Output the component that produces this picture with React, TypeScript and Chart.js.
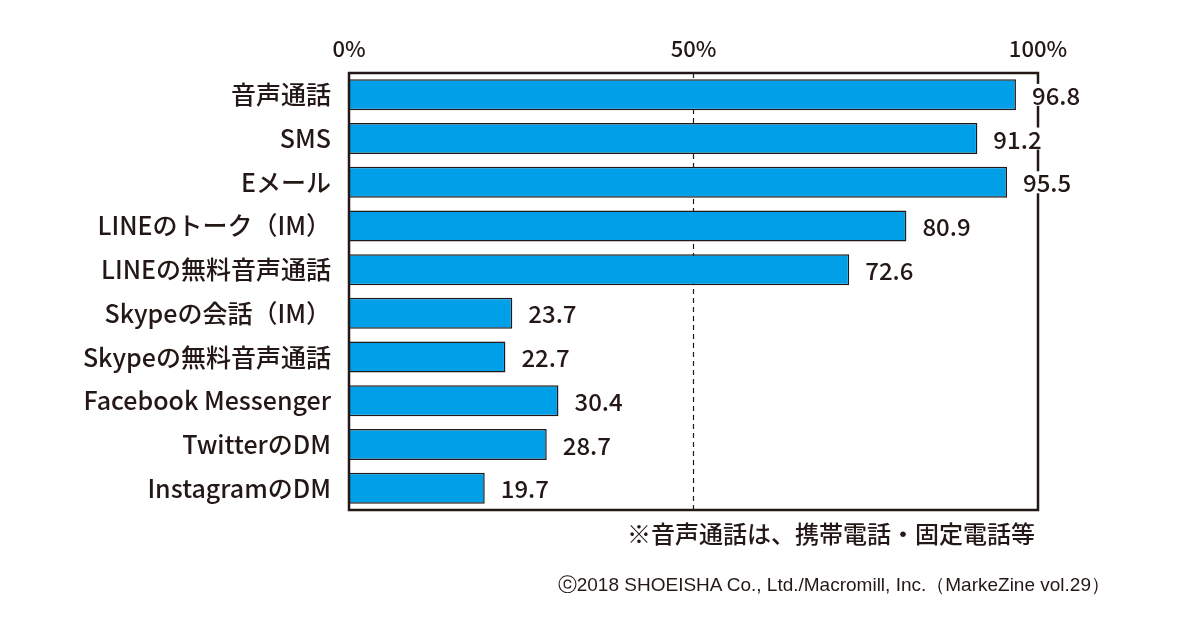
import React, { useEffect, useRef } from "react";
import { Chart, registerables } from "chart.js";

Chart.register(...registerables);

const categories = [
  "音声通話",
  "SMS",
  "Eメール",
  "LINEのトーク（IM）",
  "LINEの無料音声通話",
  "Skypeの会話（IM）",
  "Skypeの無料音声通話",
  "Facebook Messenger",
  "TwitterのDM",
  "InstagramのDM",
];
const values = [96.8, 91.2, 95.5, 80.9, 72.6, 23.7, 22.7, 30.4, 28.7, 19.7];
const xTicks = [0, 50, 100];
const noteText = "※音声通話は、携帯電話・固定電話等";
const creditText = "ⓒ2018 SHOEISHA Co., Ltd./Macromill, Inc.（MarkeZine vol.29）";

const INK = "#231815";
const BLUE = "#00A0E9";
const FONT = "'Noto Sans CJK JP', 'Noto Sans', sans-serif";

const overlayPlugin = {
  id: "overlay",
  beforeDatasetsDraw(chart: any) {
    const { ctx, chartArea } = chart;
    const xs = chart.scales.x;
    const x50 = xs.getPixelForValue(50);
    ctx.save();
    ctx.strokeStyle = INK;
    ctx.lineWidth = 1.2;
    ctx.setLineDash([5, 4]);
    ctx.beginPath();
    ctx.moveTo(x50, chartArea.top);
    ctx.lineTo(x50, chartArea.bottom);
    ctx.stroke();
    ctx.restore();
  },
  afterDraw(chart: any) {
    const { ctx, chartArea } = chart;
    ctx.save();
    ctx.strokeStyle = INK;
    ctx.lineWidth = 2.5;
    ctx.strokeRect(
      chartArea.left,
      chartArea.top,
      chartArea.right - chartArea.left,
      chartArea.bottom - chartArea.top
    );
    const meta = chart.getDatasetMeta(0);
    ctx.font = `500 24px ${FONT}`;
    ctx.textBaseline = "middle";
    ctx.textAlign = "left";
    meta.data.forEach((bar: any, i: number) => {
      const txt = values[i].toFixed(1);
      const x = bar.x + 16;
      const y = bar.y;
      const w = ctx.measureText(txt).width;
      ctx.fillStyle = "#ffffff";
      ctx.fillRect(x - 1, y - 11, w + 2, 22);
      ctx.fillStyle = INK;
      ctx.fillText(txt, x, y + 1);
    });
    ctx.restore();
  },
};

export default function App() {
  const ref = useRef<HTMLCanvasElement | null>(null);
  useEffect(() => {
    if (!ref.current) return;
    const chart = new Chart(ref.current, {
      type: "bar",
      data: {
        labels: categories,
        datasets: [
          {
            data: values,
            backgroundColor: BLUE,
            borderColor: INK,
            borderWidth: 1.5,
            barPercentage: 0.71,
            categoryPercentage: 1,
          },
        ],
      },
      options: {
        indexAxis: "y",
        responsive: false,
        animation: false,
        layout: { padding: { left: 0, top: 0, right: 162, bottom: 120 } },
        plugins: {
          legend: { display: false },
          tooltip: { enabled: false },
          title: { display: false },
        },
        scales: {
          x: {
            position: "top",
            min: 0,
            max: 100,
            afterFit: (s: any) => {
              s.height = 73;
            },
            afterBuildTicks: (s: any) => {
              s.ticks = xTicks.map((v) => ({ value: v }));
            },
            grid: { display: false, drawTicks: false },
            border: { display: false },
            ticks: {
              padding: 11,
              color: INK,
              font: { family: FONT, size: 22, weight: 500 },
              maxRotation: 0,
              callback: (v: any) => `${v}%`,
            },
          },
          y: {
            afterFit: (s: any) => {
              s.width = 349;
            },
            grid: { display: false, drawTicks: false },
            border: { display: false },
            ticks: {
              padding: 18,
              color: INK,
              font: { family: FONT, size: 25, weight: 500 },
              autoSkip: false,
            },
          },
        },
      },
      plugins: [overlayPlugin],
    });
    return () => chart.destroy();
  }, []);

  return (
    <div
      style={{
        position: "absolute",
        left: 0,
        top: 0,
        width: 1200,
        height: 630,
        background: "#fff",
        overflow: "hidden",
      }}
    >
      <canvas ref={ref} width={1200} height={630} style={{ position: "absolute", left: 0, top: 0 }} />
      <div
        style={{
          position: "absolute",
          right: 165,
          top: 516,
          fontFamily: FONT,
          fontSize: 24,
          fontWeight: 500,
          lineHeight: "34px",
          color: INK,
          whiteSpace: "nowrap",
        }}
      >
        {noteText}
      </div>
      <div
        style={{
          position: "absolute",
          right: 90,
          top: 572,
          fontFamily: "'Liberation Sans', Arial, sans-serif",
          fontSize: 19,
          lineHeight: "26px",
          color: INK,
          whiteSpace: "nowrap",
        }}
      >
        {creditText}
      </div>
    </div>
  );
}
